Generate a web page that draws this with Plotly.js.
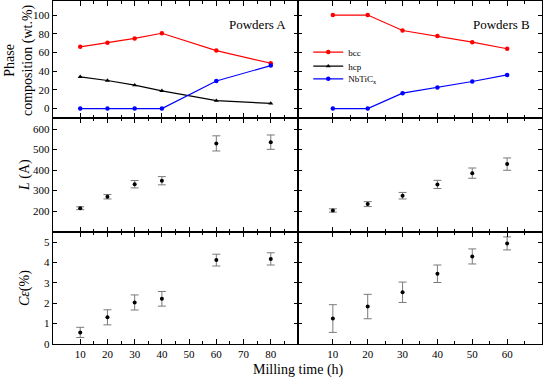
<!DOCTYPE html>
<html>
<head>
<meta charset="utf-8">
<script src="https://cdn.plot.ly/plotly-3.0.1.min.js"></script>
<style>html,body{margin:0;padding:0;background:#fff}#chart{width:550px;height:380px}</style>
</head>
<body>
<div id="chart"></div>
<script>
// ---- data ----
const timeA = [10, 20, 30, 40, 60, 80];
const timeB = [10, 20, 30, 40, 50, 60];
const bccA = [66, 70.5, 75, 80.5, 62, 48.5];
const hcpA = [34, 30, 25, 19, 8.5, 5.5];
const nbA = [0, 0, 0, 0, 29.5, 46];
const bccB = [100, 100, 83.5, 77.5, 71, 64];
const nbB = [0, 0, 16.5, 22.5, 29, 36];
const LA = [214, 270, 331, 348, 530, 536];
const errLA = [7, 11, 18, 20, 37, 35];
const LB = [203, 234, 275, 330, 385, 429];
const errLB = [8, 12, 16, 20, 25, 30];
const CeA = [0.57, 1.31, 2.04, 2.22, 4.12, 4.18];
const errCeA = [0.25, 0.37, 0.37, 0.36, 0.29, 0.30];
const CeB = [1.25, 1.84, 2.54, 3.45, 4.3, 4.94];
const errCeB = [0.68, 0.6, 0.5, 0.43, 0.37, 0.32];
const ticksA = [10, 20, 30, 40, 50, 60, 70, 80];
const minorA = [15, 25, 35, 45, 55, 65, 75, 85];
const ticksB = [10, 20, 30, 40, 50, 60];
const minorB = [15, 25, 35, 45, 55, 65];
const phaseTicks = [0, 20, 40, 60, 80, 100];
const LTicks = [200, 300, 400, 500, 600];
const CeTicks = [0, 1, 2, 3, 4, 5];

const RED = '#ff0000', BLUE = '#0000ff', BLACK = '#000000', GRAY = '#7a7a7a';
const FONT = 'Liberation Serif';

function line(x, y, color, sym, xa, ya, name, leg, show) {
  return {x: x, y: y, type: 'scatter', mode: 'lines+markers', name: name,
    xaxis: xa, yaxis: ya, legend: leg, showlegend: show,
    line: {color: color, width: 1.2},
    marker: {color: color, symbol: sym, size: 4.5}};
}
function errpts(x, y, e, xa, ya) {
  return {x: x, y: y, type: 'scatter', mode: 'markers', xaxis: xa, yaxis: ya, showlegend: false,
    marker: {color: BLACK, size: 4},
    error_y: {type: 'data', array: e, visible: true, color: GRAY, thickness: 1, width: 4}};
}

const traces = [
  line(timeA, bccA, RED, 'circle', 'x', 'y', 'bcc', 'legend', true),
  line(timeA, hcpA, BLACK, 'triangle-up', 'x', 'y', 'hcp', 'legend2', true),
  line(timeA, nbA, BLUE, 'circle', 'x', 'y', 'NbTiC<sub>x</sub>', 'legend3', true),
  line(timeB, bccB, RED, 'circle', 'x2', 'y2', 'bcc', 'legend', false),
  line(timeB, nbB, BLUE, 'circle', 'x2', 'y2', 'NbTiC<sub>x</sub>', 'legend3', false),
  errpts(timeA, LA, errLA, 'x3', 'y3'),
  errpts(timeB, LB, errLB, 'x4', 'y4'),
  errpts(timeA, CeA, errCeA, 'x5', 'y5'),
  errpts(timeB, CeB, errCeB, 'x6', 'y6')
];

const XL = [0, 0.501], XR = [0.501, 1];
const YT = [0.659, 1], YM = [0.3265, 0.659], YB = [0, 0.3265];

function xax(dom, range, tv, mv, labels, anchor) {
  return {domain: dom, range: range, anchor: anchor, tickmode: 'array', tickvals: tv,
    showticklabels: labels, ticks: 'inside', ticklen: 5, tickwidth: 1, tickcolor: BLACK,
    showline: true, linecolor: BLACK, linewidth: 1.2, mirror: 'ticks', showgrid: false, zeroline: false,
    minor: {tickmode: 'array', tickvals: mv, ticks: 'inside', ticklen: 3, tickwidth: 1, tickcolor: BLACK, showgrid: false},
    tickfont: {family: FONT, size: 11, color: BLACK}};
}
function yax(dom, range, tv, labels, anchor) {
  return {domain: dom, range: range, anchor: anchor, tickmode: 'array', tickvals: tv,
    showticklabels: labels, ticks: 'inside', ticklen: 4, tickwidth: 1, tickcolor: BLACK,
    showline: true, linecolor: BLACK, linewidth: 1.2, mirror: 'ticks', showgrid: false, zeroline: false,
    tickfont: {family: FONT, size: 11, color: BLACK}};
}

function legendAt(yp) {
  return {x: 0.522, y: yp, xanchor: 'left', yanchor: 'middle', bgcolor: 'rgba(0,0,0,0)',
    borderwidth: 0, font: {family: FONT, size: 9, color: BLACK}};
}

const layout = {
  width: 550, height: 380,
  margin: {l: 53, r: 8, t: 1, b: 36, pad: 0},
  paper_bgcolor: '#ffffff', plot_bgcolor: '#ffffff',
  font: {family: FONT, color: BLACK},
  xaxis: xax(XL, [0, 90], ticksA, minorA, false, 'y'),
  xaxis2: xax(XR, [0, 70], ticksB, minorB, false, 'y2'),
  xaxis3: xax(XL, [0, 90], ticksA, minorA, false, 'y3'),
  xaxis4: xax(XR, [0, 70], ticksB, minorB, false, 'y4'),
  xaxis5: xax(XL, [0, 90], ticksA, minorA, true, 'y5'),
  xaxis6: xax(XR, [0, 70], ticksB, minorB, true, 'y6'),
  yaxis: yax(YT, [-10, 115], phaseTicks, true, 'x'),
  yaxis2: yax(YT, [-10, 115], phaseTicks, false, 'x2'),
  yaxis3: yax(YM, [98, 654], LTicks, true, 'x3'),
  yaxis4: yax(YM, [98, 654], LTicks, false, 'x4'),
  yaxis5: yax(YB, [0, 5.5], CeTicks, true, 'x5'),
  yaxis6: yax(YB, [0, 5.5], CeTicks, false, 'x6'),
  legend: legendAt(0.851),
  legend2: legendAt(0.810),
  legend3: legendAt(0.773),
  annotations: [
    {text: 'Powders A', xref: 'paper', yref: 'paper', x: (257 - 53) / 489, y: (344 - 24) / 343,
     xanchor: 'center', yanchor: 'middle', showarrow: false, font: {family: FONT, size: 13, color: BLACK}},
    {text: 'Powders B', xref: 'paper', yref: 'paper', x: (501 - 53) / 489, y: (344 - 24) / 343,
     xanchor: 'center', yanchor: 'middle', showarrow: false, font: {family: FONT, size: 13, color: BLACK}},
    {text: 'Phase<br>composition (wt.%)', xref: 'paper', yref: 'paper', x: (19 - 53) / 489, y: (344 - 60) / 343,
     xanchor: 'center', yanchor: 'middle', textangle: -90, showarrow: false,
     font: {family: FONT, size: 14, color: BLACK}},
    {text: '<i>L</i> (A)', xref: 'paper', yref: 'paper', x: (25 - 53) / 489, y: (344 - 175) / 343,
     xanchor: 'center', yanchor: 'middle', textangle: -90, showarrow: false,
     font: {family: FONT, size: 14, color: BLACK}},
    {text: '<i>Cε</i>(%)', xref: 'paper', yref: 'paper', x: (25 - 53) / 489, y: (344 - 288) / 343,
     xanchor: 'center', yanchor: 'middle', textangle: -90, showarrow: false,
     font: {family: FONT, size: 14, color: BLACK}},
    {text: 'Milling time (h)', xref: 'paper', yref: 'paper', x: (298 - 53) / 489, y: (344 - 370) / 343,
     xanchor: 'center', yanchor: 'middle', showarrow: false,
     font: {family: FONT, size: 14, color: BLACK}}
  ]
};

Plotly.newPlot('chart', traces, layout, {displayModeBar: false, staticPlot: true});
</script>
</body>
</html>
